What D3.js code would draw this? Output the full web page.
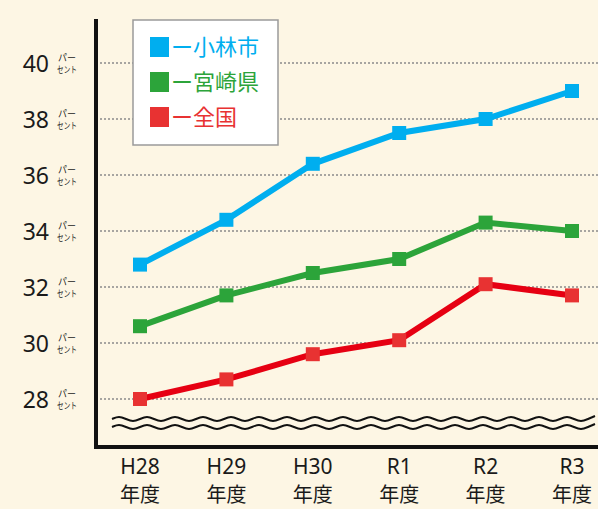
<!DOCTYPE html>
<html>
<head>
<meta charset="utf-8">
<style>
  body { margin: 0; background: #fdf6e4; }
  svg { display: block; font-family: "Noto Sans CJK JP", "Noto Sans", sans-serif; }
  .lat { font-family: "Noto Sans", sans-serif; }
</style>
<script src="https://cdn.jsdelivr.net/npm/d3@7/dist/d3.min.js"></script>
</head>
<body>
<svg width="598" height="509"></svg>
<script>
// 年度
var years = ["H28", "H29", "H30", "R1", "R2", "R3"];
var yTicks = [28, 30, 32, 34, 36, 38, 40];

// パーセント
var kobayashi = [32.8, 34.4, 36.4, 37.5, 38.0, 39.0];
var miyazaki  = [30.6, 31.7, 32.5, 33.0, 34.3, 34.0];
var zenkoku   = [28.0, 28.7, 29.6, 30.1, 32.1, 31.7];

var seriesNames = ["小林市", "宮崎県", "全国"];
var lineColors = ["#00aeef", "#2ca43a", "#e60012"];
var markColors = ["#00aeef", "#2ca43a", "#e83232"];

var series = [kobayashi, miyazaki, zenkoku].map(function(vals, i) {
  return { name: seriesNames[i], values: vals, line: lineColors[i], mark: markColors[i] };
});

var svg = d3.select("svg");
var axLeft = 96, axBottom = 447, axTop = 19;

var x = d3.scalePoint().domain(years).range([140, 572]);
var y = d3.scaleLinear().domain([28, 40]).range([399, 63]);

// grid
svg.append("g").selectAll("line")
  .data(yTicks).enter().append("line")
    .attr("x1", axLeft).attr("x2", 598)
    .attr("y1", function(d) { return y(d); })
    .attr("y2", function(d) { return y(d); })
    .attr("stroke", "#8a8a8a")
    .attr("stroke-width", 1.3)
    .attr("stroke-dasharray", "2,2");

// y tick labels
var yl = svg.append("g").selectAll("g")
  .data(yTicks).enter().append("g")
    .attr("transform", function(d) { return "translate(0," + y(d) + ")"; });
yl.append("text")
  .attr("class", "lat")
  .attr("x", 49).attr("y", 9)
  .attr("text-anchor", "end")
  .attr("font-size", 23)
  .attr("fill", "#1a1a1a")
  .text(function(d) { return d; });
yl.append("text")
  .attr("x", 67).attr("y", -2)
  .attr("text-anchor", "middle")
  .attr("font-size", 9)
  .attr("fill", "#1a1a1a")
  .text("パー");
yl.append("text")
  .attr("x", 57).attr("y", 10)
  .attr("font-size", 9)
  .attr("textLength", 20)
  .attr("lengthAdjust", "spacingAndGlyphs")
  .attr("fill", "#1a1a1a")
  .text("セント");

// break waves
var wave = d3.line().curve(d3.curveBasis);
[419, 427].forEach(function(wy) {
  var pts = [];
  for (var px = 112; px <= 600; px += 7) {
    var k = Math.round((px - 112) / 7) % 4;
    pts.push([px, wy + (k == 1 ? -3 : k == 3 ? 3 : 0)]);
  }
  svg.append("path")
    .attr("d", wave(pts))
    .attr("fill", "none")
    .attr("stroke", "#111")
    .attr("stroke-width", 2);
});

// axes
svg.append("path")
  .attr("d", "M" + axLeft + "," + axTop + "V" + axBottom + "H598")
  .attr("fill", "none")
  .attr("stroke", "#111")
  .attr("stroke-width", 4);

// x labels
var xl = svg.append("g").selectAll("g")
  .data(years).enter().append("g")
    .attr("transform", function(d) { return "translate(" + x(d) + ",0)"; });
xl.append("text")
  .attr("class", "lat")
  .attr("y", 474).attr("text-anchor", "middle")
  .attr("font-size", 21).attr("fill", "#1a1a1a")
  .text(function(d) { return d; });
xl.append("text")
  .attr("y", 502).attr("text-anchor", "middle")
  .attr("font-size", 20).attr("fill", "#1a1a1a")
  .text("年度");

// lines
var line = d3.line()
  .x(function(d, i) { return x(years[i]); })
  .y(function(d) { return y(d); });

series.forEach(function(s) {
  svg.append("path")
    .attr("d", line(s.values))
    .attr("fill", "none")
    .attr("stroke", s.line)
    .attr("stroke-width", 6);
  svg.append("g").selectAll("rect")
    .data(s.values).enter().append("rect")
      .attr("x", function(d, i) { return x(years[i]) - 7; })
      .attr("y", function(d) { return y(d) - 7; })
      .attr("width", 14).attr("height", 14)
      .attr("fill", s.mark);
});

// legend
var lg = svg.append("g");
lg.append("rect")
  .attr("x", 133).attr("y", 20)
  .attr("width", 145).attr("height", 125)
  .attr("fill", "#fff")
  .attr("stroke", "#9a9a9a")
  .attr("stroke-width", 1.5);
var li = lg.selectAll("g.item")
  .data(series).enter().append("g")
    .attr("transform", function(d, i) { return "translate(150," + (47 + i * 35) + ")"; });
li.append("rect")
  .attr("x", 0).attr("y", -10)
  .attr("width", 19).attr("height", 20)
  .attr("fill", function(d) { return d.mark; });
li.append("text")
  .attr("x", 21).attr("y", 8)
  .attr("font-size", 22)
  .attr("fill", function(d) { return d.mark; })
  .text(function(d) { return "ー" + d.name; });
</script>
</body>
</html>
